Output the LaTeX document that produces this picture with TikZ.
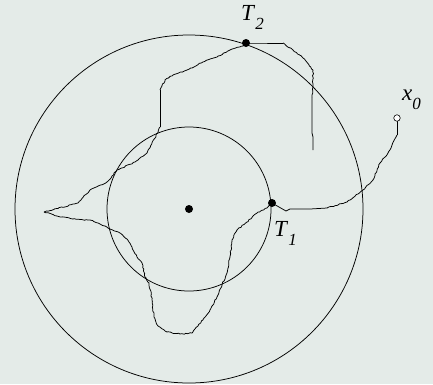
\documentclass[tikz,border=0pt]{standalone}
\usepackage{fontspec}
\setmainfont{Liberation Serif}
\usetikzlibrary{decorations.pathmorphing,positioning}
\definecolor{bgpaper}{RGB}{228,235,232}
\newcommand{\sublab}[2]{\textit{#1}\raisebox{-0.4em}{\fontsize{17}{17}\selectfont\textit{#2}}}
\begin{document}
\begin{tikzpicture}[x=1pt, y=-1pt,
      ring/.style={draw, line width=0.75pt},
      walk/.style={line width=0.75pt, line join=round,
                   decorate, decoration={random steps, segment length=2pt, amplitude=0.55pt}},
      plain/.style={line width=0.75pt, line join=round},
      hit/.style={circle, fill=black, inner sep=0pt, minimum size=8pt},
      start/.style={circle, draw, fill=white, line width=0.6pt, inner sep=0pt, minimum size=6.5pt},
      lbl/.style={font=\fontsize{23}{23}\selectfont, inner sep=0pt}
    ]
    \pgfmathsetseed{11}
    % Background
    \fill[bgpaper] (0,0) rectangle (433,384);
    \useasboundingbox (0,0) rectangle (433,384);

    % Circles
    \coordinate (O) at (189,209);
    \draw[ring] (O) circle[radius=174pt];
    \draw[ring] (O) circle[radius=82pt];

    % Key points
    \coordinate (x0) at (397,118);
    \coordinate (T1) at (272,203);
    \coordinate (T2) at (246,43);
    \coordinate (tip) at (44,212);
    \coordinate (stop) at (313,150);

    % Walk: x0 to T1
    \draw[plain] (x0) -- (397,135);
    \draw[walk] (397,135) -- (388,153) -- (380,163) -- (373,180) -- (363,190)
      -- (347,202) -- (327,208);
    \draw[plain] (327,208) -- (310,209) -- (290,209) -- (286,211) -- (T1);

    % Walk: T1 round the lower loop to the left tip
    \draw[walk] (T1) -- (267,208) -- (257,213) -- (247,222) -- (237,230)
      -- (232,240) -- (230,257) -- (227,273) -- (222,285) -- (217,297)
      -- (210,310) -- (204,318) -- (198,326) -- (192,333) -- (180,334)
      -- (167,332) -- (158,326) -- (154,317) -- (152,300) -- (149,283)
      -- (145,277) -- (142,263) -- (137,257) -- (132,247) -- (127,239)
      -- (120,233) -- (108,228) -- (100,224) -- (90,220) -- (73,219)
      -- (57,216) -- (tip);

    % Walk: left tip up to T2
    \draw[walk] (tip) -- (78,203) -- (90,190) -- (107,182) -- (117,170)
      -- (135,162) -- (147,153) -- (156,136) -- (160,127);
    \draw[plain] (160,127) -- (160,90);
    \draw[walk] (160,90) -- (165,80) -- (173,75) -- (187,70) -- (203,62)
      -- (217,57) -- (230,50) -- (243,46) -- (T2);

    % Walk: T2 to the end
    \draw[plain] (T2) -- (252,43) -- (283,43);
    \draw[walk] (283,43) -- (293,50) -- (303,58) -- (313,70) -- (313,87)
      -- (312,97);
    \draw[plain] (312,97) -- (312,133) -- (313,137) -- (stop);

    % Points and labels
    \node[hit] (c) at (O) {};
    \node[hit] (t1) at (T1) {};
    \node[hit] (t2) at (T2) {};
    \node[start] (s) at (x0) {};
    \node[lbl, anchor=base west] at (241,20) {\sublab{T}{2}};
    \node[lbl, anchor=base west] at (274,236) {\sublab{T}{1}};
    \node[lbl, anchor=base west] at (402,100) {\sublab{x}{0}};
  \end{tikzpicture}
\end{document}
